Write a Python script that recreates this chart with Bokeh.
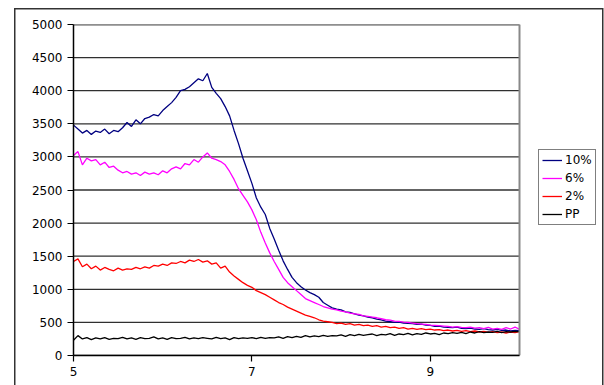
import numpy as np
from bokeh.plotting import figure
from bokeh.models import (ColumnDataSource, FixedTicker, Legend, LegendItem,
                          Range1d)
from bokeh.embed import file_html
from bokeh.resources import INLINE

x_vals = [round(5 + 0.05 * i, 2) for i in range(101)]

s10 = [3480, 3420, 3360, 3400, 3340, 3390, 3370, 3420, 3350, 3400,
       3380, 3440, 3520, 3460, 3560, 3500, 3580, 3600, 3640, 3620,
       3700, 3760, 3820, 3900, 4000, 4020, 4060, 4120, 4180, 4150,
       4260, 4050, 3960, 3880, 3760, 3620, 3400, 3200, 2980, 2790,
       2600, 2380, 2240, 2130, 1920, 1760, 1590, 1430, 1300, 1180,
       1100, 1040, 990, 950, 920, 880, 800, 760, 720, 700,
       690, 660, 650, 630, 610, 600, 580, 570, 550, 540,
       520, 510, 500, 505, 490, 485, 480, 470, 475, 460,
       455, 440, 445, 430, 425, 420, 430, 410, 405, 415,
       400, 395, 405, 390, 385, 395, 380, 385, 370, 380, 375]

s6 = [3020, 3080, 2880, 2980, 2940, 2960, 2880, 2920, 2840, 2860,
      2800, 2760, 2780, 2740, 2760, 2720, 2770, 2740, 2760, 2730,
      2790, 2760, 2820, 2850, 2820, 2900, 2880, 2960, 2920, 3000,
      3060, 2980, 2960, 2930, 2880, 2780, 2660, 2520, 2420, 2320,
      2200, 2050, 1860, 1700, 1550, 1420, 1300, 1180, 1100, 1040,
      980, 920, 860, 830, 800, 770, 740, 720, 700, 690,
      670, 660, 640, 630, 620, 600, 590, 580, 570, 555,
      540, 535, 520, 515, 505, 500, 490, 480, 475, 470,
      460, 455, 450, 445, 440, 430, 435, 425, 420, 430,
      415, 420, 405, 425, 400, 410, 395, 420, 400, 430, 395]

s2 = [1420, 1460, 1340, 1380, 1310, 1350, 1290, 1330, 1300, 1280,
      1320, 1290, 1310, 1300, 1330, 1310, 1340, 1320, 1360, 1350,
      1380, 1360, 1400, 1390, 1420, 1400, 1440, 1420, 1450, 1410,
      1430, 1380, 1400, 1320, 1350, 1260, 1200, 1150, 1100, 1060,
      1030, 980, 950, 920, 880, 840, 800, 770, 730, 700,
      670, 640, 610, 590, 570, 540, 520, 510, 500, 480,
      490, 470, 480, 460, 470, 450, 460, 440, 450, 430,
      440, 420, 430, 410, 420, 400, 410, 395, 405, 390,
      400, 385, 390, 375, 385, 370, 380, 365, 375, 360,
      370, 355, 365, 350, 360, 345, 355, 340, 355, 345, 360]

spp = [230, 300, 250, 270, 240, 265, 250, 270, 245, 260,
       255, 275, 250, 265, 245, 270, 255, 260, 280, 250,
       265, 245, 270, 255, 260, 275, 250, 265, 255, 270,
       260, 250, 275, 255, 265, 240, 270, 255, 265, 260,
       270, 255, 275, 260, 270, 265, 280, 260, 285, 270,
       290, 275, 300, 280, 295, 285, 305, 290, 300, 295,
       310, 290, 315, 300, 320, 305, 315, 325, 300, 320,
       310, 330, 305, 325, 315, 335, 310, 330, 320, 340,
       325, 335, 315, 340, 330, 345, 335, 350, 330, 355,
       340, 360, 345, 355, 350, 365, 345, 360, 355, 365, 360]

series_names = ["10%", "6%", "2%", "PP"]
series_colors = ["#000080", "#ff00ff", "#ff0000", "#000000"]
x_ticks = [5, 7, 9]
y_ticks = list(range(0, 5001, 500))
x_min, x_max = 5, 10
y_min, y_max = 0, 5000

FONT = "DejaVu Sans"

# layout (pixels): plot box 73..519 wide; frame extended to the right so the
# legend (outside the plot box) is not clipped
W, H = 604, 385
BOX_L, BOX_R, RIGHT_PAD = 73, 519, 2
px_per_unit = (BOX_R - BOX_L) / (x_max - x_min)
x_end = x_max + (W - RIGHT_PAD - BOX_R) / px_per_unit

p = figure(width=W, height=H, output_backend="svg", toolbar_location=None,
           x_range=Range1d(x_min, x_end), y_range=Range1d(y_min, y_max),
           min_border_left=BOX_L, min_border_right=RIGHT_PAD, min_border_top=24,
           min_border_bottom=30)

# horizontal gridlines across the plot box only
p.segment(x0=[x_min] * len(y_ticks), x1=[x_max] * len(y_ticks),
          y0=y_ticks, y1=y_ticks, line_color="#303030", line_width=1.3)

source = ColumnDataSource(dict(x=x_vals, s10=s10, s6=s6, s2=s2, spp=spp))
renderers = []
for key, color in zip(["s10", "s6", "s2", "spp"], series_colors):
    r = p.line("x", key, source=source, line_color=color, line_width=1.3)
    renderers.append(r)

# grey plot-box border (top and right)
p.line(x=[x_min, x_max, x_max], y=[y_max, y_max, y_min],
       line_color="#888888", line_width=2)

# axes
p.xaxis.ticker = FixedTicker(ticks=x_ticks)
p.yaxis.ticker = FixedTicker(ticks=y_ticks)
p.xaxis.bounds = (x_min, x_max)
p.yaxis.bounds = (y_min, y_max)
for ax in (p.xaxis[0], p.yaxis[0]):
    ax.axis_line_color = "#000000"
    ax.axis_line_width = 1.5
    ax.major_tick_line_color = "#000000"
    ax.major_tick_line_width = 1.2
    ax.major_tick_out = 6
    ax.major_tick_in = 0
    ax.minor_tick_line_color = None
    ax.major_label_text_font = FONT
    ax.major_label_text_font_size = "12px"
    ax.major_label_text_color = "#000000"
    ax.major_label_standoff = 5

p.xgrid.grid_line_color = None
p.ygrid.grid_line_color = None
p.outline_line_color = None
p.background_fill_alpha = 0
p.border_fill_alpha = 0

# outer chart frame drawn as CSS background lines behind the transparent canvas
p.styles = {
    "background": ("linear-gradient(#333,#333) 14px 8px / 589px 1.5px no-repeat, "
                   "linear-gradient(#333,#333) 14px 8px / 1.5px 400px no-repeat, "
                   "linear-gradient(#333,#333) 601.5px 8px / 1.5px 400px no-repeat, "
                   "#ffffff"),
}

legend = Legend(items=[LegendItem(label=n, renderers=[r])
                       for n, r in zip(series_names, renderers)],
                location=(538 - BOX_L, 355 - 225))
legend.label_text_font = FONT
legend.label_text_font_size = "12px"
legend.label_text_color = "#000000"
legend.label_height = 12
legend.glyph_height = 12
legend.glyph_width = 20
legend.spacing = 4
legend.padding = 3
legend.margin = 0
legend.label_standoff = 3
legend.border_line_color = "#000000"
legend.border_line_width = 1
legend.background_fill_color = "#ffffff"
legend.background_fill_alpha = 1
p.add_layout(legend, "center")

open("out.html", "w").write(file_html(p, INLINE))
